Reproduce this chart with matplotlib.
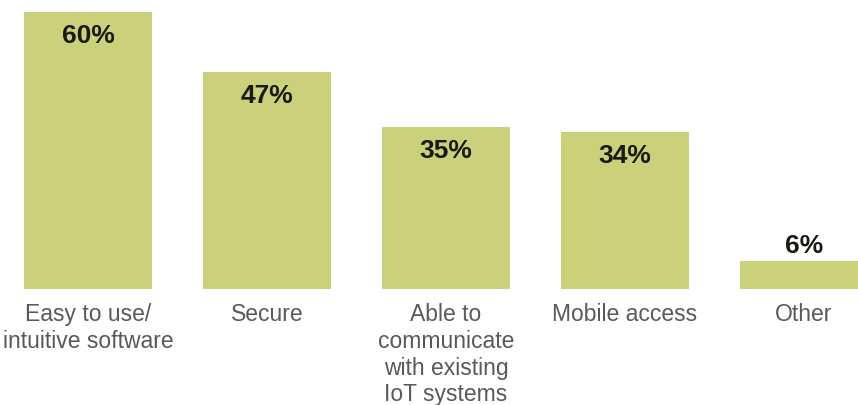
import matplotlib.pyplot as plt

categories = [
    "Easy to use/\nintuitive software",
    "Secure",
    "Able to\ncommunicate\nwith existing\nIoT systems",
    "Mobile access",
    "Other",
]
values = [60, 47, 35, 34, 6]

BAR_COLOR = "#cbd07a"
VALUE_COLOR = "#1a1a12"
LABEL_COLOR = "#595959"

plt.rcParams["font.family"] = ["Liberation Sans", "DejaVu Sans"]

fig = plt.figure(figsize=(8.58, 4.06), dpi=100)
ax = fig.add_axes([0, 116.5 / 406, 1, 289.5 / 406])

x = list(range(len(values)))
bars = ax.bar(x, values, width=0.715, color=BAR_COLOR, linewidth=0)

ax.set_xlim(-88 / 179, (858 - 88) / 179)
ax.set_ylim(0, 289.5 / 277 * 60)
ax.axis("off")

for xi, val, cat in zip(x, values, categories):
    inside = val > 15
    ax.annotate(
        f"{val}%",
        xy=(xi, val),
        xytext=(0, -23.5 if inside else 16),
        textcoords="offset pixels",
        ha="center",
        va="center",
        fontsize=19,
        fontweight="bold",
        color=VALUE_COLOR,
        annotation_clip=False,
    )
    ax.annotate(
        cat,
        xy=(xi, 0),
        xytext=(0, -14),
        textcoords="offset pixels",
        ha="center",
        va="top",
        fontsize=16.5,
        color=LABEL_COLOR,
        linespacing=1.2,
        annotation_clip=False,
    )

fig.savefig("out.png", dpi=100)
